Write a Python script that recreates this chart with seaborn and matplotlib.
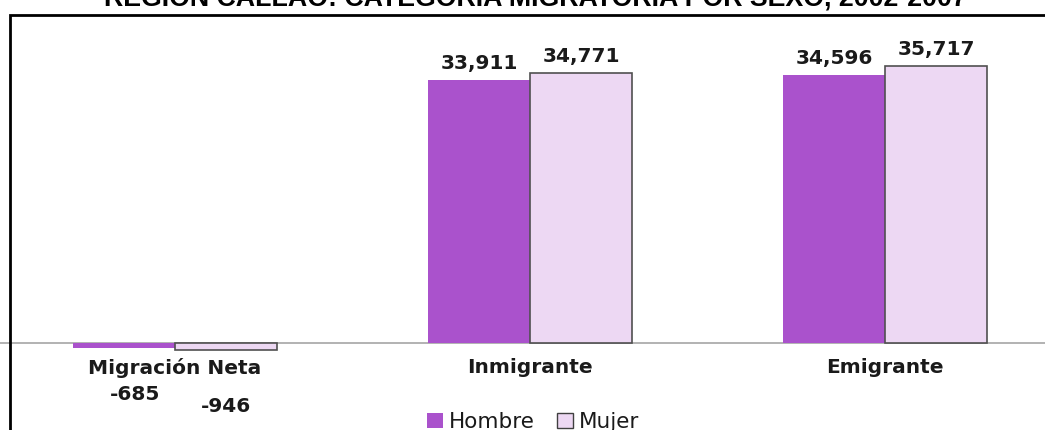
import matplotlib
matplotlib.use("Agg")
import matplotlib.pyplot as plt
import matplotlib.patches as mpatches
import seaborn as sns
import pandas as pd

categories = ["Migración Neta", "Inmigrante", "Emigrante"]
series = ["Hombre", "Mujer"]
hombre = [-685, 33911, 34596]
mujer = [-946, 34771, 35717]
title = "REGIÓN CALLAO: CATEGORÍA MIGRATORIA POR SEXO, 2002-2007"

colors = {"Hombre": "#AA52CC", "Mujer": "#EDD8F3"}

df = pd.DataFrame({
    "cat": categories * 2,
    "sexo": ["Hombre"] * 3 + ["Mujer"] * 3,
    "val": hombre + mujer,
})

sns.set_style("white")
plt.rcParams["font.family"] = ["DejaVu Sans"]

W, H = 1045, 430
fig = plt.figure(figsize=(W / 100, H / 100), dpi=100)

# axes geometry in pixels
left_px, right_px = -2.5, 1062.5
top_px, bot_px = 20, 400
zero_px = 343
scale = (343 - 66) / 35717.0  # px per unit
ymax = (zero_px - top_px) / scale
ymin = ymax - (bot_px - top_px) / scale
ax = fig.add_axes([left_px / W, 1 - bot_px / H, (right_px - left_px) / W, (bot_px - top_px) / H])
ax.set_facecolor("none")

sns.barplot(data=df, x="cat", y="val", hue="sexo", order=categories, hue_order=series,
            palette=colors, width=0.575, gap=0, ax=ax, legend=False, saturation=1)

for p in ax.containers[0]:
    p.set_edgecolor("none")
for p in ax.containers[1]:
    p.set_edgecolor("#505050")
    p.set_linewidth(1.2)

ax.set_xlim(-0.5, 2.5)
ax.set_ylim(ymin, ymax)
ax.set_xlabel("")
ax.set_ylabel("")
ax.set_yticks([])
for s in ["top", "left", "right"]:
    ax.spines[s].set_visible(False)
ax.spines["bottom"].set_position(("data", 0))
ax.spines["bottom"].set_color("#A6A6A6")
ax.spines["bottom"].set_linewidth(1.2)
ax.spines["bottom"].set_zorder(0.5)
ax.set_xticks(range(len(categories)))
ax.set_xticklabels(categories, fontsize=14.5, fontweight="bold", color="#1a1a1a")
ax.tick_params(axis="x", which="major", length=0, pad=11)
ax.set_xticks([0.5, 1.5], minor=True)
ax.tick_params(axis="x", which="minor", length=6, width=1, color="#A6A6A6", direction="out")

label_kw = dict(fontsize=14.5, fontweight="bold", color="#1a1a1a", ha="center")
neg_offsets = {"Hombre": (11, -46), "Mujer": (0, -56)}
for cont, name in zip(ax.containers, series):
    for p in cont:
        xc = p.get_x() + p.get_width() / 2
        if p.get_y() >= 0 and p.get_height() >= 0:
            ax.annotate(f"{p.get_height():,.0f}", xy=(xc, p.get_height()), xytext=(0, 7),
                        textcoords="offset pixels", va="bottom", **label_kw)
        else:
            vv = min(p.get_y(), p.get_y() + p.get_height())
            dx, dy = neg_offsets[name]
            ax.annotate(f"{vv:,.0f}", xy=(xc, vv), xytext=(dx, dy),
                        textcoords="offset pixels", va="center", annotation_clip=False, **label_kw)

# frame
frame = mpatches.Rectangle((10 / W, -0.2), 1.2, 1 - 15 / H + 0.2, transform=fig.transFigure,
                           fill=False, edgecolor="black", linewidth=2, clip_on=False)
fig.patches.append(frame)

fig.text(535 / W, 1 - 6 / H, title, ha="center", va="baseline", fontsize=19.3,
         fontweight="bold", family=["Liberation Sans", "DejaVu Sans"], color="black")

handles = [mpatches.Patch(facecolor=colors["Hombre"], edgecolor="none", label="Hombre"),
           mpatches.Patch(facecolor=colors["Mujer"], edgecolor="#404040", linewidth=1, label="Mujer")]
fig.legend(handles=handles, loc="center", bbox_to_anchor=(533 / W, 1 - 422 / H), ncol=2,
           frameon=False, fontsize=15.5, handlelength=0.75, handleheight=0.75, handletextpad=0.3,
           columnspacing=1.0, borderpad=0, labelcolor="#1a1a1a")

fig.savefig("out.png", dpi=100)
